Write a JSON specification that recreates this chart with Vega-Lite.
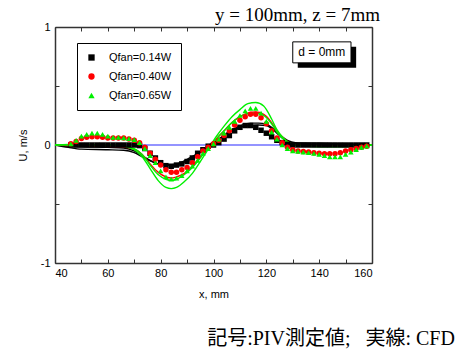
{
  "$schema": "https://vega.github.io/schema/vega-lite/v6.json",
  "autosize": {"type": "none"},
  "padding": {"left": 55, "top": 27, "right": 100, "bottom": 88},
  "width": 317,
  "height": 236,
  "background": "white",
  "config": {
    "font": "Liberation Sans",
    "view": {"stroke": null},
    "axis": {"grid": false, "domainColor": "#333333", "domainWidth": 1.5, "tickColor": "#333333", "tickWidth": 1, "labelFont": "Liberation Sans", "labelFontSize": 11, "labelColor": "#000000", "titleFont": "Liberation Sans", "titleFontSize": 11, "titleFontWeight": "normal", "titleColor": "#000000"},
    "legend": {"orient": "none", "legendX": 22, "legendY": 16, "padding": 9, "strokeColor": "#000000", "fillColor": "#ffffff", "labelFontSize": 11, "labelFont": "Liberation Sans", "labelColor": "#000000", "symbolSize": 40, "rowPadding": 7, "labelOffset": 12}
  },
  "title": {"text": "y = 100mm, z = 7mm", "orient": "top", "anchor": "end", "frame": "group", "font": "Liberation Serif", "fontSize": 19, "fontWeight": "normal", "color": "#000000", "baseline": "bottom", "offset": 0, "dx": 8, "dy": 23},
  "datasets": {
    "piv": [
      {"s": "0.14W", "x": 46, "u": 0.0}, {"s": "0.14W", "x": 48, "u": 0.0}, {"s": "0.14W", "x": 50, "u": 0.0}, {"s": "0.14W", "x": 52, "u": 0.0}, {"s": "0.14W", "x": 54, "u": 0.0}, {"s": "0.14W", "x": 56, "u": 0.0}, {"s": "0.14W", "x": 58, "u": 0.0}, {"s": "0.14W", "x": 60, "u": 0.0}, {"s": "0.14W", "x": 62, "u": 0.0}, {"s": "0.14W", "x": 64, "u": 0.0}, {"s": "0.14W", "x": 66, "u": 0.0}, {"s": "0.14W", "x": 68, "u": 0.0}, {"s": "0.14W", "x": 70, "u": 0.0}, {"s": "0.14W", "x": 72, "u": -0.005}, {"s": "0.14W", "x": 74, "u": -0.03}, {"s": "0.14W", "x": 76, "u": -0.07}, {"s": "0.14W", "x": 78, "u": -0.11}, {"s": "0.14W", "x": 80, "u": -0.15}, {"s": "0.14W", "x": 82, "u": -0.175}, {"s": "0.14W", "x": 84, "u": -0.18}, {"s": "0.14W", "x": 86, "u": -0.17}, {"s": "0.14W", "x": 88, "u": -0.16}, {"s": "0.14W", "x": 90, "u": -0.14}, {"s": "0.14W", "x": 92, "u": -0.11}, {"s": "0.14W", "x": 94, "u": -0.07}, {"s": "0.14W", "x": 96, "u": -0.04}, {"s": "0.14W", "x": 98, "u": -0.01}, {"s": "0.14W", "x": 100, "u": 0.0}, {"s": "0.14W", "x": 102, "u": 0.02}, {"s": "0.14W", "x": 104, "u": 0.05}, {"s": "0.14W", "x": 106, "u": 0.08}, {"s": "0.14W", "x": 108, "u": 0.12}, {"s": "0.14W", "x": 110, "u": 0.15}, {"s": "0.14W", "x": 112, "u": 0.165}, {"s": "0.14W", "x": 114, "u": 0.165}, {"s": "0.14W", "x": 116, "u": 0.15}, {"s": "0.14W", "x": 118, "u": 0.125}, {"s": "0.14W", "x": 120, "u": 0.1}, {"s": "0.14W", "x": 122, "u": 0.07}, {"s": "0.14W", "x": 124, "u": 0.04}, {"s": "0.14W", "x": 126, "u": 0.02}, {"s": "0.14W", "x": 128, "u": 0.005}, {"s": "0.14W", "x": 130, "u": 0.0}, {"s": "0.14W", "x": 132, "u": 0.0}, {"s": "0.14W", "x": 134, "u": 0.0}, {"s": "0.14W", "x": 136, "u": 0.0}, {"s": "0.14W", "x": 138, "u": 0.0}, {"s": "0.14W", "x": 140, "u": 0.0}, {"s": "0.14W", "x": 142, "u": 0.0}, {"s": "0.14W", "x": 144, "u": 0.0}, {"s": "0.14W", "x": 146, "u": 0.0}, {"s": "0.14W", "x": 148, "u": 0.0}, {"s": "0.14W", "x": 150, "u": 0.0}, {"s": "0.14W", "x": 152, "u": 0.0}, {"s": "0.14W", "x": 154, "u": 0.0}, {"s": "0.14W", "x": 156, "u": 0.0}, {"s": "0.14W", "x": 158, "u": 0.0},
      {"s": "0.40W", "x": 46, "u": 0.01}, {"s": "0.40W", "x": 48, "u": 0.03}, {"s": "0.40W", "x": 50, "u": 0.055}, {"s": "0.40W", "x": 52, "u": 0.065}, {"s": "0.40W", "x": 54, "u": 0.07}, {"s": "0.40W", "x": 56, "u": 0.07}, {"s": "0.40W", "x": 58, "u": 0.065}, {"s": "0.40W", "x": 60, "u": 0.06}, {"s": "0.40W", "x": 62, "u": 0.06}, {"s": "0.40W", "x": 64, "u": 0.06}, {"s": "0.40W", "x": 66, "u": 0.06}, {"s": "0.40W", "x": 68, "u": 0.05}, {"s": "0.40W", "x": 70, "u": 0.04}, {"s": "0.40W", "x": 72, "u": 0.02}, {"s": "0.40W", "x": 74, "u": -0.02}, {"s": "0.40W", "x": 76, "u": -0.07}, {"s": "0.40W", "x": 78, "u": -0.12}, {"s": "0.40W", "x": 80, "u": -0.17}, {"s": "0.40W", "x": 82, "u": -0.21}, {"s": "0.40W", "x": 84, "u": -0.23}, {"s": "0.40W", "x": 86, "u": -0.23}, {"s": "0.40W", "x": 88, "u": -0.21}, {"s": "0.40W", "x": 90, "u": -0.19}, {"s": "0.40W", "x": 92, "u": -0.15}, {"s": "0.40W", "x": 94, "u": -0.1}, {"s": "0.40W", "x": 96, "u": -0.05}, {"s": "0.40W", "x": 98, "u": -0.02}, {"s": "0.40W", "x": 100, "u": 0.01}, {"s": "0.40W", "x": 102, "u": 0.04}, {"s": "0.40W", "x": 104, "u": 0.08}, {"s": "0.40W", "x": 106, "u": 0.12}, {"s": "0.40W", "x": 108, "u": 0.17}, {"s": "0.40W", "x": 110, "u": 0.21}, {"s": "0.40W", "x": 112, "u": 0.24}, {"s": "0.40W", "x": 114, "u": 0.26}, {"s": "0.40W", "x": 116, "u": 0.26}, {"s": "0.40W", "x": 118, "u": 0.23}, {"s": "0.40W", "x": 120, "u": 0.18}, {"s": "0.40W", "x": 122, "u": 0.12}, {"s": "0.40W", "x": 124, "u": 0.06}, {"s": "0.40W", "x": 126, "u": 0.02}, {"s": "0.40W", "x": 128, "u": -0.02}, {"s": "0.40W", "x": 130, "u": -0.04}, {"s": "0.40W", "x": 132, "u": -0.05}, {"s": "0.40W", "x": 134, "u": -0.055}, {"s": "0.40W", "x": 136, "u": -0.06}, {"s": "0.40W", "x": 138, "u": -0.065}, {"s": "0.40W", "x": 140, "u": -0.07}, {"s": "0.40W", "x": 142, "u": -0.075}, {"s": "0.40W", "x": 144, "u": -0.075}, {"s": "0.40W", "x": 146, "u": -0.075}, {"s": "0.40W", "x": 148, "u": -0.065}, {"s": "0.40W", "x": 150, "u": -0.05}, {"s": "0.40W", "x": 152, "u": -0.04}, {"s": "0.40W", "x": 154, "u": -0.03}, {"s": "0.40W", "x": 156, "u": -0.02}, {"s": "0.40W", "x": 158, "u": -0.01},
      {"s": "0.65W", "x": 46, "u": 0.01}, {"s": "0.65W", "x": 48, "u": 0.04}, {"s": "0.65W", "x": 50, "u": 0.075}, {"s": "0.65W", "x": 52, "u": 0.09}, {"s": "0.65W", "x": 54, "u": 0.1}, {"s": "0.65W", "x": 56, "u": 0.1}, {"s": "0.65W", "x": 58, "u": 0.09}, {"s": "0.65W", "x": 60, "u": 0.075}, {"s": "0.65W", "x": 62, "u": 0.065}, {"s": "0.65W", "x": 64, "u": 0.065}, {"s": "0.65W", "x": 66, "u": 0.06}, {"s": "0.65W", "x": 68, "u": 0.055}, {"s": "0.65W", "x": 70, "u": 0.045}, {"s": "0.65W", "x": 72, "u": 0.02}, {"s": "0.65W", "x": 74, "u": -0.03}, {"s": "0.65W", "x": 76, "u": -0.09}, {"s": "0.65W", "x": 78, "u": -0.15}, {"s": "0.65W", "x": 80, "u": -0.22}, {"s": "0.65W", "x": 82, "u": -0.27}, {"s": "0.65W", "x": 84, "u": -0.29}, {"s": "0.65W", "x": 86, "u": -0.28}, {"s": "0.65W", "x": 88, "u": -0.26}, {"s": "0.65W", "x": 90, "u": -0.22}, {"s": "0.65W", "x": 92, "u": -0.18}, {"s": "0.65W", "x": 94, "u": -0.13}, {"s": "0.65W", "x": 96, "u": -0.07}, {"s": "0.65W", "x": 98, "u": -0.03}, {"s": "0.65W", "x": 100, "u": 0.01}, {"s": "0.65W", "x": 102, "u": 0.05}, {"s": "0.65W", "x": 104, "u": 0.1}, {"s": "0.65W", "x": 106, "u": 0.15}, {"s": "0.65W", "x": 108, "u": 0.2}, {"s": "0.65W", "x": 110, "u": 0.25}, {"s": "0.65W", "x": 112, "u": 0.29}, {"s": "0.65W", "x": 114, "u": 0.31}, {"s": "0.65W", "x": 116, "u": 0.31}, {"s": "0.65W", "x": 118, "u": 0.27}, {"s": "0.65W", "x": 120, "u": 0.2}, {"s": "0.65W", "x": 122, "u": 0.11}, {"s": "0.65W", "x": 124, "u": 0.05}, {"s": "0.65W", "x": 126, "u": 0.0}, {"s": "0.65W", "x": 128, "u": -0.03}, {"s": "0.65W", "x": 130, "u": -0.05}, {"s": "0.65W", "x": 132, "u": -0.055}, {"s": "0.65W", "x": 134, "u": -0.06}, {"s": "0.65W", "x": 136, "u": -0.065}, {"s": "0.65W", "x": 138, "u": -0.07}, {"s": "0.65W", "x": 140, "u": -0.08}, {"s": "0.65W", "x": 142, "u": -0.09}, {"s": "0.65W", "x": 144, "u": -0.1}, {"s": "0.65W", "x": 146, "u": -0.1}, {"s": "0.65W", "x": 148, "u": -0.1}, {"s": "0.65W", "x": 150, "u": -0.08}, {"s": "0.65W", "x": 152, "u": -0.06}, {"s": "0.65W", "x": 154, "u": -0.04}, {"s": "0.65W", "x": 156, "u": -0.02}, {"s": "0.65W", "x": 158, "u": -0.01}
    ],
    "cfd": [
      {"line": "k1", "x": 40, "u": 0}, {"line": "k1", "x": 45, "u": -0.01}, {"line": "k1", "x": 50, "u": -0.015}, {"line": "k1", "x": 60, "u": -0.02}, {"line": "k1", "x": 66, "u": -0.025}, {"line": "k1", "x": 70, "u": -0.05}, {"line": "k1", "x": 73, "u": -0.09}, {"line": "k1", "x": 76, "u": -0.13}, {"line": "k1", "x": 79, "u": -0.16}, {"line": "k1", "x": 82, "u": -0.17}, {"line": "k1", "x": 85, "u": -0.17}, {"line": "k1", "x": 88, "u": -0.155}, {"line": "k1", "x": 91, "u": -0.12}, {"line": "k1", "x": 94, "u": -0.08}, {"line": "k1", "x": 97, "u": -0.03}, {"line": "k1", "x": 99, "u": 0.0}, {"line": "k1", "x": 102, "u": 0.05}, {"line": "k1", "x": 105, "u": 0.1}, {"line": "k1", "x": 108, "u": 0.14}, {"line": "k1", "x": 111, "u": 0.17}, {"line": "k1", "x": 114, "u": 0.185}, {"line": "k1", "x": 117, "u": 0.185}, {"line": "k1", "x": 120, "u": 0.175}, {"line": "k1", "x": 122, "u": 0.15}, {"line": "k1", "x": 124, "u": 0.11}, {"line": "k1", "x": 126, "u": 0.07}, {"line": "k1", "x": 128, "u": 0.04}, {"line": "k1", "x": 131, "u": 0.02}, {"line": "k1", "x": 140, "u": 0.015}, {"line": "k1", "x": 150, "u": 0.01}, {"line": "k1", "x": 156, "u": 0.005}, {"line": "k1", "x": 160, "u": 0},
      {"line": "k2", "x": 40, "u": 0}, {"line": "k2", "x": 45, "u": -0.02}, {"line": "k2", "x": 50, "u": -0.035}, {"line": "k2", "x": 60, "u": -0.04}, {"line": "k2", "x": 66, "u": -0.045}, {"line": "k2", "x": 70, "u": -0.065}, {"line": "k2", "x": 73, "u": -0.1}, {"line": "k2", "x": 76, "u": -0.135}, {"line": "k2", "x": 79, "u": -0.16}, {"line": "k2", "x": 82, "u": -0.17}, {"line": "k2", "x": 85, "u": -0.165}, {"line": "k2", "x": 88, "u": -0.145}, {"line": "k2", "x": 91, "u": -0.11}, {"line": "k2", "x": 94, "u": -0.07}, {"line": "k2", "x": 97, "u": -0.02}, {"line": "k2", "x": 99, "u": 0.01}, {"line": "k2", "x": 102, "u": 0.05}, {"line": "k2", "x": 105, "u": 0.09}, {"line": "k2", "x": 108, "u": 0.13}, {"line": "k2", "x": 111, "u": 0.155}, {"line": "k2", "x": 114, "u": 0.165}, {"line": "k2", "x": 117, "u": 0.17}, {"line": "k2", "x": 120, "u": 0.165}, {"line": "k2", "x": 122, "u": 0.14}, {"line": "k2", "x": 124, "u": 0.1}, {"line": "k2", "x": 126, "u": 0.06}, {"line": "k2", "x": 128, "u": 0.03}, {"line": "k2", "x": 131, "u": 0.01}, {"line": "k2", "x": 140, "u": 0.0}, {"line": "k2", "x": 150, "u": 0.0}, {"line": "k2", "x": 160, "u": 0},
      {"line": "r1", "x": 40, "u": 0}, {"line": "r1", "x": 45, "u": -0.005}, {"line": "r1", "x": 55, "u": -0.01}, {"line": "r1", "x": 65, "u": -0.015}, {"line": "r1", "x": 70, "u": -0.035}, {"line": "r1", "x": 73, "u": -0.08}, {"line": "r1", "x": 76, "u": -0.16}, {"line": "r1", "x": 79, "u": -0.23}, {"line": "r1", "x": 82, "u": -0.27}, {"line": "r1", "x": 84, "u": -0.28}, {"line": "r1", "x": 86, "u": -0.27}, {"line": "r1", "x": 89, "u": -0.24}, {"line": "r1", "x": 92, "u": -0.18}, {"line": "r1", "x": 95, "u": -0.1}, {"line": "r1", "x": 97, "u": -0.05}, {"line": "r1", "x": 99, "u": 0.0}, {"line": "r1", "x": 101, "u": 0.05}, {"line": "r1", "x": 104, "u": 0.12}, {"line": "r1", "x": 107, "u": 0.19}, {"line": "r1", "x": 110, "u": 0.24}, {"line": "r1", "x": 113, "u": 0.27}, {"line": "r1", "x": 116, "u": 0.28}, {"line": "r1", "x": 119, "u": 0.26}, {"line": "r1", "x": 122, "u": 0.19}, {"line": "r1", "x": 124, "u": 0.12}, {"line": "r1", "x": 126, "u": 0.07}, {"line": "r1", "x": 128, "u": 0.03}, {"line": "r1", "x": 131, "u": 0.005}, {"line": "r1", "x": 140, "u": -0.005}, {"line": "r1", "x": 150, "u": -0.005}, {"line": "r1", "x": 160, "u": 0},
      {"line": "g2", "x": 40, "u": 0}, {"line": "g2", "x": 45, "u": 0}, {"line": "g2", "x": 55, "u": 0}, {"line": "g2", "x": 65, "u": -0.005}, {"line": "g2", "x": 70, "u": -0.03}, {"line": "g2", "x": 73, "u": -0.08}, {"line": "g2", "x": 76, "u": -0.17}, {"line": "g2", "x": 79, "u": -0.25}, {"line": "g2", "x": 82, "u": -0.29}, {"line": "g2", "x": 84, "u": -0.3}, {"line": "g2", "x": 86, "u": -0.29}, {"line": "g2", "x": 89, "u": -0.25}, {"line": "g2", "x": 92, "u": -0.19}, {"line": "g2", "x": 95, "u": -0.11}, {"line": "g2", "x": 97, "u": -0.05}, {"line": "g2", "x": 99, "u": 0.0}, {"line": "g2", "x": 101, "u": 0.05}, {"line": "g2", "x": 104, "u": 0.12}, {"line": "g2", "x": 107, "u": 0.19}, {"line": "g2", "x": 110, "u": 0.24}, {"line": "g2", "x": 113, "u": 0.265}, {"line": "g2", "x": 116, "u": 0.27}, {"line": "g2", "x": 119, "u": 0.25}, {"line": "g2", "x": 122, "u": 0.18}, {"line": "g2", "x": 124, "u": 0.11}, {"line": "g2", "x": 126, "u": 0.06}, {"line": "g2", "x": 128, "u": 0.02}, {"line": "g2", "x": 131, "u": 0.0}, {"line": "g2", "x": 140, "u": -0.01}, {"line": "g2", "x": 150, "u": -0.01}, {"line": "g2", "x": 160, "u": 0},
      {"line": "g1", "x": 40, "u": 0}, {"line": "g1", "x": 45, "u": 0.005}, {"line": "g1", "x": 55, "u": 0.005}, {"line": "g1", "x": 62, "u": 0.0}, {"line": "g1", "x": 66, "u": -0.01}, {"line": "g1", "x": 70, "u": -0.04}, {"line": "g1", "x": 73, "u": -0.1}, {"line": "g1", "x": 76, "u": -0.2}, {"line": "g1", "x": 79, "u": -0.3}, {"line": "g1", "x": 82, "u": -0.36}, {"line": "g1", "x": 84, "u": -0.37}, {"line": "g1", "x": 86, "u": -0.36}, {"line": "g1", "x": 89, "u": -0.31}, {"line": "g1", "x": 92, "u": -0.24}, {"line": "g1", "x": 95, "u": -0.14}, {"line": "g1", "x": 97, "u": -0.07}, {"line": "g1", "x": 99, "u": 0.0}, {"line": "g1", "x": 101, "u": 0.07}, {"line": "g1", "x": 104, "u": 0.16}, {"line": "g1", "x": 107, "u": 0.24}, {"line": "g1", "x": 110, "u": 0.3}, {"line": "g1", "x": 113, "u": 0.35}, {"line": "g1", "x": 116, "u": 0.36}, {"line": "g1", "x": 119, "u": 0.33}, {"line": "g1", "x": 122, "u": 0.22}, {"line": "g1", "x": 124, "u": 0.13}, {"line": "g1", "x": 126, "u": 0.07}, {"line": "g1", "x": 128, "u": 0.03}, {"line": "g1", "x": 131, "u": 0.0}, {"line": "g1", "x": 135, "u": -0.01}, {"line": "g1", "x": 145, "u": -0.015}, {"line": "g1", "x": 155, "u": -0.01}, {"line": "g1", "x": 160, "u": 0}
    ]
  },
  "resolve": {"axis": {"x": "independent", "y": "independent"}},
  "layer": [
    {
      "data": {"values": [{"u": 0}]},
      "mark": {"type": "rule", "color": "#7070ff", "strokeWidth": 1.3},
      "encoding": {
        "y": {"field": "u", "type": "quantitative", "scale": {"domain": [-1, 1], "nice": false}, "axis": null}
      }
    },
    {
      "data": {"name": "cfd"},
      "mark": {"type": "line", "interpolate": "monotone", "strokeWidth": 1.4},
      "encoding": {
        "x": {"field": "x", "type": "quantitative", "scale": {"domain": [40, 160], "nice": false, "zero": false},
              "axis": {"orient": "top", "values": [40, 50, 60, 70, 80, 90, 100, 110, 120, 130, 140, 150, 160], "labels": false, "title": null, "tickSize": -4}},
        "y": {"field": "u", "type": "quantitative", "scale": {"domain": [-1, 1], "nice": false},
              "axis": {"orient": "right", "values": [-1, -0.5, 0, 0.5, 1], "labels": false, "title": null, "tickSize": -4}},
        "stroke": {"field": "line", "type": "nominal", "scale": {"domain": ["k1", "k2", "r1", "g1", "g2"], "range": ["#000000", "#000000", "#ff0000", "#00f000", "#00f000"]}, "legend": null}
      }
    },
    {
      "data": {"name": "piv"},
      "mark": {"type": "point", "filled": true, "opacity": 1, "size": 30},
      "encoding": {
        "x": {"field": "x", "type": "quantitative",
              "axis": {"orient": "bottom", "values": [40, 50, 60, 70, 80, 90, 100, 110, 120, 130, 140, 150, 160], "labelExpr": "datum.value % 20 == 0 ? datum.label : ''", "tickSize": -4, "labelPadding": 8, "title": "x, mm", "titlePadding": 10}},
        "y": {"field": "u", "type": "quantitative",
              "axis": {"orient": "left", "values": [-1, -0.5, 0, 0.5, 1], "labelExpr": "datum.value == 1 ? '1' : datum.value == 0 ? '0' : datum.value == -1 ? '-1' : ''", "tickSize": -4, "labelPadding": 9, "title": "U, m/s", "titlePadding": 12}},
        "color": {"field": "s", "type": "nominal", "scale": {"domain": ["0.14W", "0.40W", "0.65W"], "range": ["#000000", "#ff0000", "#00f000"]},
                  "legend": {"title": null, "labelExpr": "'Qfan=' + datum.label"}},
        "shape": {"field": "s", "type": "nominal", "scale": {"domain": ["0.14W", "0.40W", "0.65W"], "range": ["square", "circle", "triangle-up"]},
                  "legend": {"title": null, "labelExpr": "'Qfan=' + datum.label"}}
      }
    },
    {
      "data": {"values": [{"x1": 131.9, "x2": 154.0, "y1": 0.832, "y2": 0.654}]},
      "mark": {"type": "rect", "color": "#000000"},
      "encoding": {
        "x": {"field": "x1", "type": "quantitative", "axis": null}, "x2": {"field": "x2"},
        "y": {"field": "y1", "type": "quantitative", "axis": null}, "y2": {"field": "y2"}
      }
    },
    {
      "data": {"values": [{"x1": 130.0, "x2": 152.05, "y1": 0.874, "y2": 0.696}]},
      "mark": {"type": "rect", "fill": "#ffffff", "stroke": "#000000", "strokeWidth": 1},
      "encoding": {
        "x": {"field": "x1", "type": "quantitative", "axis": null}, "x2": {"field": "x2"},
        "y": {"field": "y1", "type": "quantitative", "axis": null}, "y2": {"field": "y2"}
      }
    },
    {
      "data": {"values": [{"x": 141.0, "u": 0.785, "t": "d = 0mm"}]},
      "mark": {"type": "text", "font": "Liberation Sans", "fontSize": 12, "align": "center", "baseline": "middle", "color": "#000000"},
      "encoding": {
        "x": {"field": "x", "type": "quantitative", "axis": null},
        "y": {"field": "u", "type": "quantitative", "axis": null},
        "text": {"field": "t"}
      }
    },
    {
      "data": {"values": [{"x": 191.4, "u": -1.696, "t": "記号:PIV測定値;\u00a0\u00a0 実線: CFD"}]},
      "mark": {"type": "text", "font": "Liberation Serif, Noto Sans CJK JP", "fontSize": 20, "align": "right", "baseline": "alphabetic", "color": "#000000"},
      "encoding": {
        "x": {"field": "x", "type": "quantitative", "axis": null},
        "y": {"field": "u", "type": "quantitative", "axis": null},
        "text": {"field": "t"}
      }
    }
  ]
}
